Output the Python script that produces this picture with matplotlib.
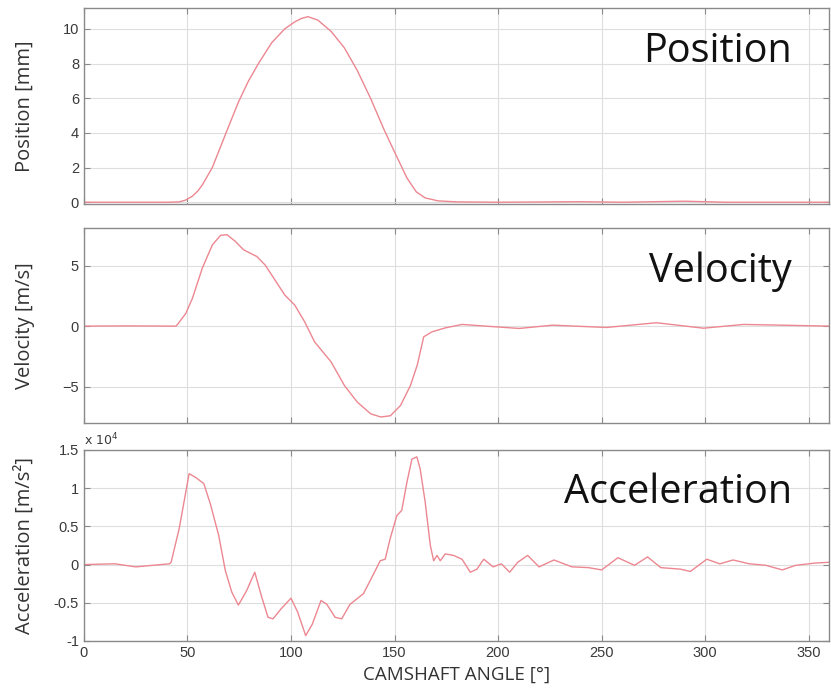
import matplotlib
matplotlib.use('Agg')
import matplotlib.pyplot as plt
from matplotlib.ticker import FuncFormatter

# values
pos_angle = [0, 20, 40, 46, 49, 52.4, 55, 57.2, 62, 65, 68.3, 74.7, 79.5, 84.3, 90.7, 97,
             101.8, 105, 108.2, 113, 119.4, 125.8, 132, 138.4, 144.9, 150, 156, 160.5,
             164.8, 171, 180, 200, 240, 260, 290, 310, 360]
pos_mm = [0, 0, 0, 0.02, 0.12, 0.35, 0.65, 1.0, 2.0, 2.9, 3.9, 5.8, 7.0, 8.0, 9.2, 10.0,
          10.4, 10.6, 10.7, 10.5, 9.85, 8.9, 7.6, 6.0, 4.2, 2.9, 1.4, 0.6,
          0.25, 0.08, 0.02, 0, 0.03, 0.0, 0.06, 0, 0]

vel_angle = [0, 20, 44.4, 45.2, 49.2, 52.4, 57.2, 62, 66, 69.1, 73.1, 77.1, 83.5,
             87.5, 92.3, 97, 101.8, 106.6, 111.4, 119.4, 125.8, 132, 138.5, 143.3,
             148, 152.9, 157.7, 161, 164.1, 168.1, 174.6, 182.7, 194, 210.2, 226.4,
             252.3, 276.5, 299.2, 318.6, 360]
vel_ms = [0, 0.02, 0, 0.14, 1.05, 2.3, 4.8, 6.7, 7.5, 7.55, 7.0, 6.3, 5.75,
          5.05, 3.8, 2.57, 1.74, 0.36, -1.3, -2.96, -4.9, -6.27, -7.24, -7.5,
          -7.4, -6.55, -4.9, -3.2, -0.88, -0.47, -0.14, 0.14, 0, -0.19, 0.08,
          -0.11, 0.28, -0.17, 0.14, 0]

acc_angle = [0, 15, 25, 41.3, 42.1, 46, 50.8, 54, 57.9, 61.1, 65.1, 68.3, 71.4,
             74.6, 78.6, 82.5, 85.7, 88.9, 91.3, 95.2, 100, 103.2, 107.1, 110.3,
             114.5, 117.3, 121.3, 124.5, 128.5, 131.8, 135, 139, 143.1, 145.5,
             147.9, 151.1, 153.5, 156, 158.4, 160.8, 162.4, 164.8, 167.3, 168.9,
             170.5, 172.1, 174.5, 178.5, 182.6, 186.6, 189.8, 193.1, 197.6, 201.6,
             205.6, 209.5, 214.3, 219.8, 227, 235.7, 243.7, 250, 257.9, 265.9,
             272.2, 278.6, 288.1, 292.9, 300.8, 307.1, 313.5, 321.4, 329.4, 337.3,
             343.7, 353.2, 360]
acc_ms2 = [0, 100, -300, 100, 300, 4700, 11900, 11400, 10600, 7900, 3800, -800,
           -3600, -5300, -3400, -1000, -4100, -6900, -7100, -5800, -4400, -6200,
           -9300, -7800, -4700, -5200, -6900, -7100, -5200, -4500, -3800, -1700,
           500, 700, 3400, 6400, 7100, 10800, 13800, 14100, 12500, 8200, 2500,
           500, 1200, 500, 1400, 1200, 700, -1000, -600, 700, -300, 100, -1000,
           300, 1200, -300, 600, -300, -400, -700, 900, -100, 1000, -400, -600,
           -900, 700, 100, 600, 100, -100, -700, -100, 200, 300]

ang_ticks = [0, 50, 100, 150, 200, 250, 300, 350]

line_col = '#ec8791'
grid_col = '#dedede'
spine_col = '#8a8a8a'
tick_col = '#3a3a3a'

fig = plt.figure(figsize=(8.31, 6.91), dpi=100)
ax1 = fig.add_axes([0.101, 0.7048, 0.897, 0.2836])
ax2 = fig.add_axes([0.101, 0.3878, 0.897, 0.2822])
ax3 = fig.add_axes([0.101, 0.0724, 0.897, 0.2764])

ax1.plot(pos_angle, pos_mm, color=line_col, lw=1.0)
ax2.plot(vel_angle, vel_ms, color=line_col, lw=1.0)
ax3.plot(acc_angle, acc_ms2, color=line_col, lw=1.0)

ax1.set_ylim(-0.1, 11.2)
ax1.set_yticks([0, 2, 4, 6, 8, 10])
ax2.set_ylim(-8, 8.1)
ax2.set_yticks([-5, 0, 5])
ax3.set_ylim(-10000, 15000)
ax3.set_yticks([-10000, -5000, 0, 5000, 10000, 15000])
ax3.yaxis.set_major_formatter(FuncFormatter(lambda v, p: '%g' % (v / 1e4)))

for ax, lab in [(ax1, 'Position [mm]'), (ax2, 'Velocity [m/s]'),
                (ax3, 'Acceleration [m/s²]')]:
    ax.set_xlim(0, 360)
    ax.set_xticks(ang_ticks)
    ax.grid(True, color=grid_col, lw=0.8)
    ax.set_axisbelow(True)
    ax.tick_params(direction='in', length=4, width=0.8, top=True, right=True,
                   colors=spine_col, labelcolor=tick_col, labelsize=10.5)
    for s in ax.spines.values():
        s.set_color(spine_col)
        s.set_linewidth(1.0)
    ax.set_ylabel(lab, family='Open Sans', fontsize=14.5, color='#333333')
    ax.yaxis.set_label_coords(-0.066, 0.5)
    for t in ax.get_yticklabels() + ax.get_xticklabels():
        t.set_family('Liberation Sans')

ax1.tick_params(labelbottom=False)
ax2.tick_params(labelbottom=False)
ax3.set_xlabel('CAMSHAFT ANGLE [°]', family='Open Sans', fontsize=13.5,
               color='#333333', labelpad=4)

ax3.text(0.0, 1.01, 'x 10$^4$', transform=ax3.transAxes, fontsize=9,
         color=tick_col, ha='left', va='bottom')

for ax, name in [(ax1, 'Position'), (ax2, 'Velocity'), (ax3, 'Acceleration')]:
    ax.text(0.95, 0.725, name, transform=ax.transAxes, ha='right',
            va='baseline', family='Open Sans', fontsize=28.5, color='#111111')

fig.savefig('out.png', dpi=100)
